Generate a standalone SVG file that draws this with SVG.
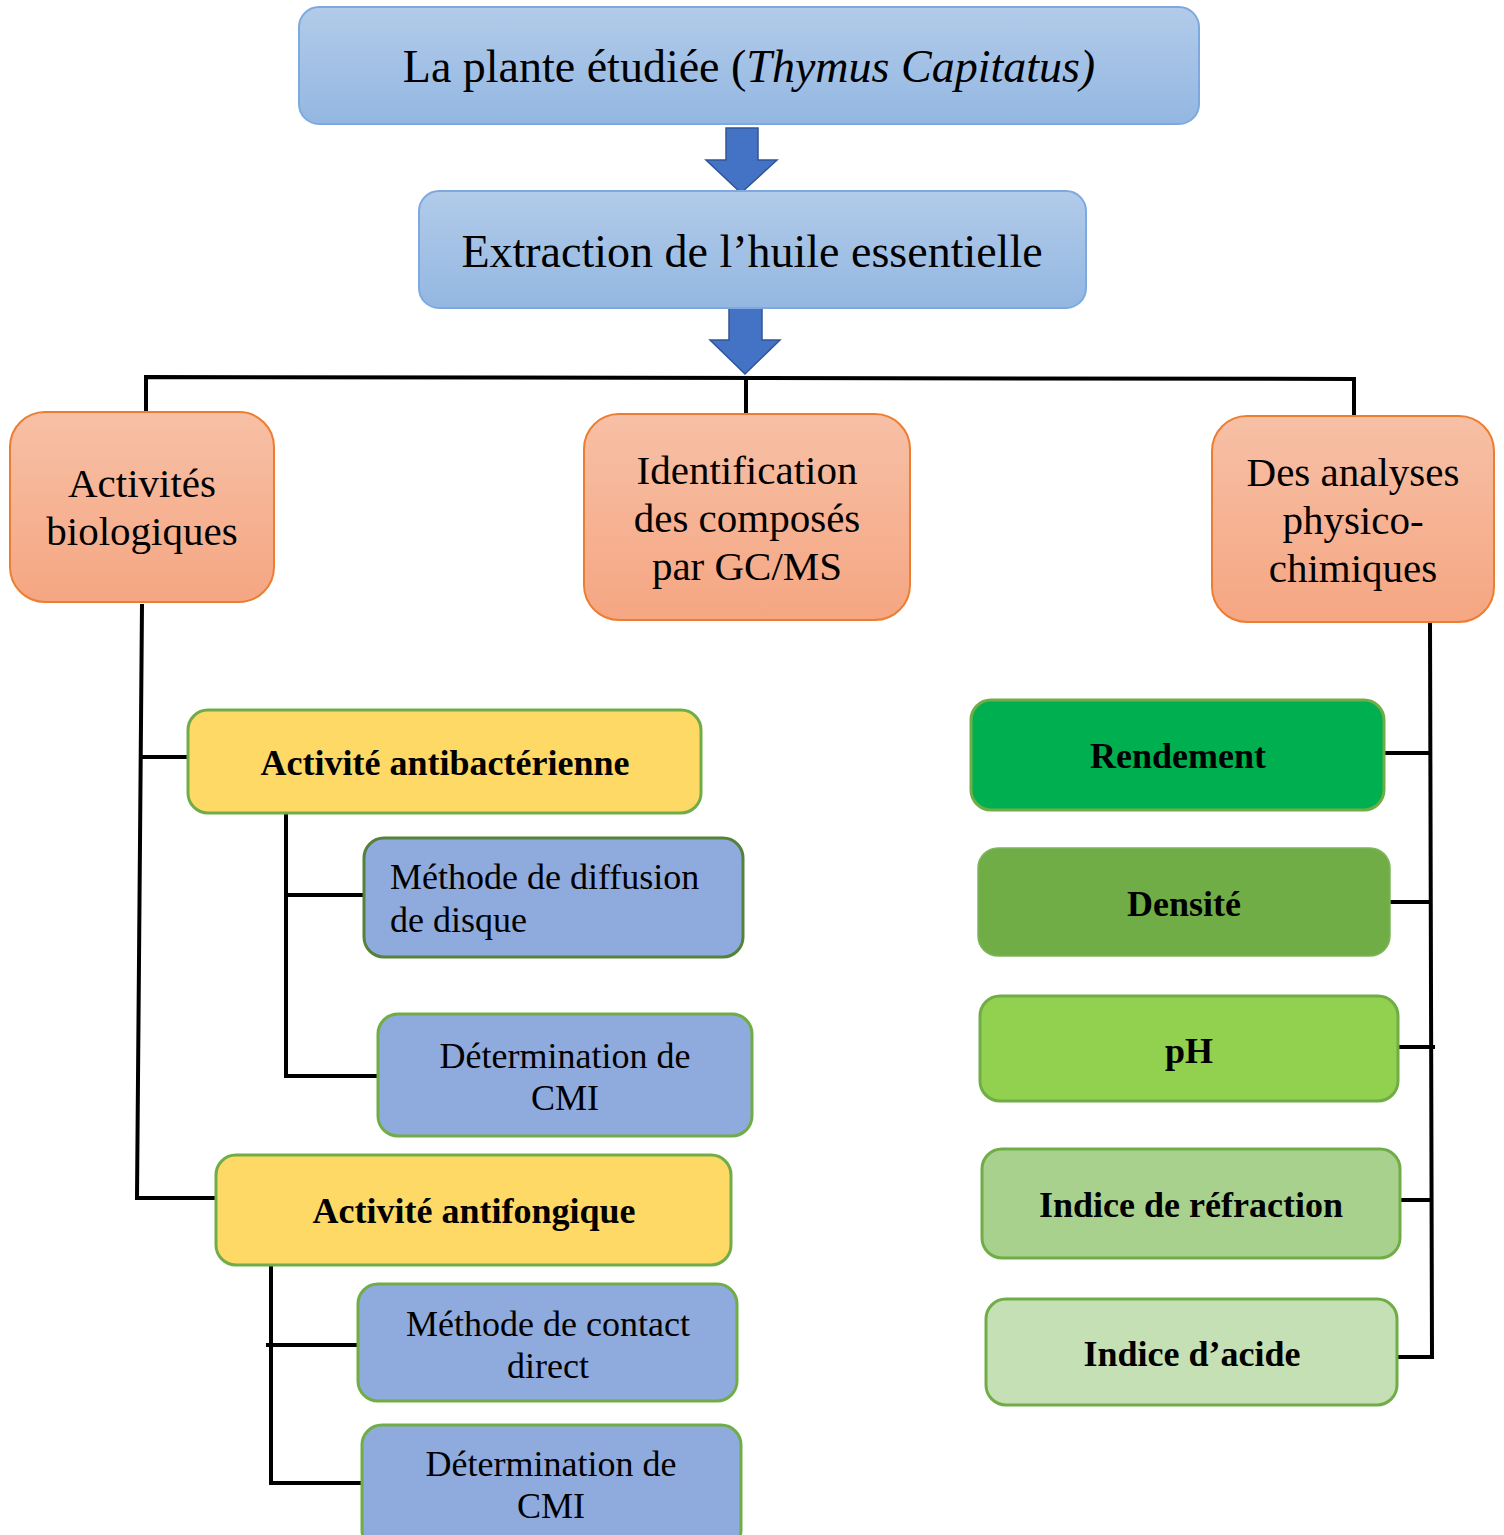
<svg xmlns="http://www.w3.org/2000/svg" width="1504" height="1535" viewBox="0 0 1504 1535">
<defs>
<linearGradient id="gBlue" x1="0" y1="0" x2="0" y2="1"><stop offset="0" stop-color="#b2cbe9"/><stop offset="1" stop-color="#93b7e2"/></linearGradient>
<linearGradient id="gOrange" x1="0" y1="0" x2="0" y2="1"><stop offset="0" stop-color="#f7c0a6"/><stop offset="1" stop-color="#f5a682"/></linearGradient>
</defs>
<style>
text{font-family:"Liberation Serif","Times New Roman",serif;fill:#000;text-anchor:middle}
.t46{font-size:46px}
.t41{font-size:41px}
.t36{font-size:36px}
.b36{font-size:36px;font-weight:bold}
.top{fill:url(#gBlue);stroke:#7ea9de;stroke-width:2}
.org{fill:url(#gOrange);stroke:#ed7d31;stroke-width:2}
.yel{fill:#ffd966;stroke:#70ad47;stroke-width:3}
.blu{fill:#8faadc;stroke:#70ad47;stroke-width:3}
.arr{fill:#4472c4;stroke:#2f5597;stroke-width:1.5}
.con{fill:none;stroke:#000;stroke-width:4}
</style>
<g id="connectors">
<path class="arr" d="M726 128 H758 V160 H777 L741 193 L706 160 H726 Z"/>
<path class="arr" d="M729 308 H762 V340 H780 L745 374 L710 340 H729 Z"/>
<path class="con" d="M146 412 V377 L1354 379 V416"/>
<path class="con" d="M746 378 V414"/>
<path class="con" d="M142 604 L137 1198 H216"/>
<path class="con" d="M141 757 H188"/>
<path class="con" d="M286 813 V1076 H378"/>
<path class="con" d="M286 895 H364"/>
<path class="con" d="M271 1263 V1483 H362"/>
<path class="con" d="M266 1345 H358"/>
<path class="con" d="M1430 622 L1432 1357 H1397"/>
<path class="con" d="M1384 753 H1430"/>
<path class="con" d="M1390 902 H1430"/>
<path class="con" d="M1398 1047 H1435"/>
<path class="con" d="M1400 1200 H1431"/>
</g>
<g id="plante">
<rect class="top" x="299" y="7" width="900" height="117" rx="20"/>
<text class="t46" x="749" y="82">La plante étudiée (<tspan font-style="italic">Thymus Capitatus)</tspan></text>
</g>
<g id="extraction">
<rect class="top" x="419" y="191" width="667" height="117" rx="20"/>
<text class="t46" x="752" y="267">Extraction de l’huile essentielle</text>
</g>
<g id="activites">
<rect class="org" x="10" y="412" width="264" height="190" rx="35"/>
<text class="t41" x="142" y="497">Activités</text>
<text class="t41" x="142" y="545">biologiques</text>
</g>
<g id="identification">
<rect class="org" x="584" y="414" width="326" height="206" rx="35"/>
<text class="t41" x="747" y="484">Identification</text>
<text class="t41" x="747" y="532">des composés</text>
<text class="t41" x="747" y="580">par GC/MS</text>
</g>
<g id="analyses">
<rect class="org" x="1212" y="416" width="282" height="206" rx="35"/>
<text class="t41" x="1353" y="486">Des analyses</text>
<text class="t41" x="1353" y="534">physico-</text>
<text class="t41" x="1353" y="582">chimiques</text>
</g>
<g id="antibacterienne">
<rect class="yel" x="188" y="710" width="513" height="103" rx="20"/>
<text class="b36" x="445" y="775">Activité antibactérienne</text>
</g>
<g id="diffusion">
<rect class="blu" x="364" y="838" width="379" height="119" rx="20" style="stroke:#55813a"/>
<text class="t36" x="390" y="889" style="text-anchor:start">Méthode de diffusion</text>
<text class="t36" x="390" y="932" style="text-anchor:start">de disque</text>
</g>
<g id="cmi1">
<rect class="blu" x="378" y="1014" width="374" height="122" rx="20"/>
<text class="t36" x="565" y="1068">Détermination de</text>
<text class="t36" x="565" y="1110">CMI</text>
</g>
<g id="antifongique">
<rect class="yel" x="216" y="1155" width="515" height="110" rx="20"/>
<text class="b36" x="474" y="1223">Activité antifongique</text>
</g>
<g id="contact">
<rect class="blu" x="358" y="1284" width="379" height="117" rx="20"/>
<text class="t36" x="548" y="1336">Méthode de contact</text>
<text class="t36" x="548" y="1378">direct</text>
</g>
<g id="cmi2">
<rect class="blu" x="362" y="1425" width="379" height="125" rx="20"/>
<text class="t36" x="551" y="1476">Détermination de</text>
<text class="t36" x="551" y="1518">CMI</text>
</g>
<g id="rendement">
<rect x="971" y="700" width="413" height="110" rx="20" fill="#00b050" stroke="#70ad47" stroke-width="3"/>
<text class="b36" x="1178" y="768">Rendement</text>
</g>
<g id="densite">
<rect x="978" y="848" width="412" height="108" rx="20" fill="#70ad47" stroke="#7eb55a" stroke-width="1.5"/>
<text class="b36" x="1184" y="916">Densité</text>
</g>
<g id="ph">
<rect x="980" y="996" width="418" height="105" rx="20" fill="#92d050" stroke="#70ad47" stroke-width="3"/>
<text class="b36" x="1189" y="1063">pH</text>
</g>
<g id="refraction">
<rect x="982" y="1149" width="418" height="109" rx="20" fill="#a9d18e" stroke="#70ad47" stroke-width="3"/>
<text class="b36" x="1191" y="1217">Indice de réfraction</text>
</g>
<g id="acide">
<rect x="986" y="1299" width="411" height="106" rx="20" fill="#c5e0b4" stroke="#70ad47" stroke-width="3"/>
<text class="b36" x="1192" y="1366">Indice d’acide</text>
</g>
</svg>
